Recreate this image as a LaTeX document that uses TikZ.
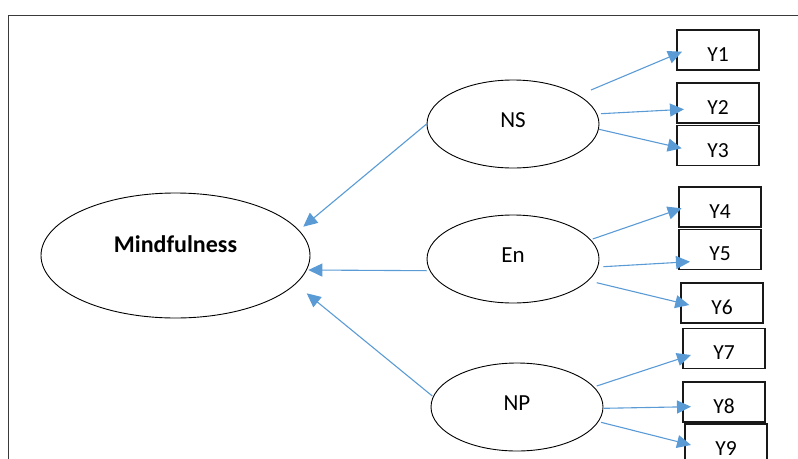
\documentclass[tikz,border=0pt]{standalone}
\usepackage{fontspec}
\setmainfont{Carlito}
\usetikzlibrary{shapes.geometric,arrows.meta}
\definecolor{arrowblue}{HTML}{5B9BD5}
\definecolor{framegray}{HTML}{3A3A3A}
\begin{document}
\begin{tikzpicture}[x=1pt,y=-1pt,
  latent/.style={ellipse,draw=black,line width=0.9pt,inner sep=0pt},
  factor/.style={latent,minimum width=172pt,minimum height=88pt,
    font=\fontsize{23}{27}\selectfont,text height=14.8pt,text depth=8pt},
  indicator/.style={rectangle,draw=black!90,line width=1.3pt,inner sep=0pt,
    minimum width=82pt,minimum height=40pt,
    font=\fontsize{21.5}{25}\selectfont,text height=22.8pt,text depth=0pt},
  arr/.style={draw=arrowblue,line width=1.1pt,
    -{Triangle[length=14pt,width=13pt]}}]
\useasboundingbox (0,0) rectangle (798,458);

% outer frame (runs on past the right and bottom edges)
\draw[framegray,line width=1.4pt] (8.3,470) -- (8.3,15.7) -- (810,15.7);

% second-order construct
\node[latent,minimum width=269pt,minimum height=125pt,
  font=\fontsize{24}{28}\selectfont\bfseries,text height=15.4pt,text depth=22pt]
  (M) at (175.5,255.5) {Mindfulness};

% first-order factors
\node[factor] (NS) at (513,124) {NS};
\node[factor] (En) at (513,259) {En};
\node[factor] (NP) at (517,407) {NP};

% indicators
\node[indicator] (Y1) at (718,50)     {Y1};
\node[indicator] (Y2) at (718,103)    {Y2};
\node[indicator] (Y3) at (718,145.75) {Y3};
\node[indicator] (Y4) at (720,207)    {Y4};
\node[indicator] (Y5) at (720,249.5)  {Y5};
\node[indicator] (Y6) at (722,303)    {Y6};
\node[indicator] (Y7) at (724,348.5)  {Y7};
\node[indicator] (Y8) at (724,402)    {Y8};
\node[indicator] (Y9) at (726,444)    {Y9};

% connector end points
\coordinate (s1) at (591,90);    \coordinate (t1) at (682,51.7);
\coordinate (s2) at (601,113.7); \coordinate (t2) at (684,109.3);
\coordinate (s3) at (599,129.3); \coordinate (t3) at (681.7,148.3);
\coordinate (s4) at (592.7,239); \coordinate (t4) at (681.7,208.3);
\coordinate (s5) at (603.3,266.7); \coordinate (t5) at (690,261.7);
\coordinate (s6) at (596.7,282.7); \coordinate (t6) at (689.3,305);
\coordinate (s7) at (596.7,386); \coordinate (t7) at (691,355);
\coordinate (s8) at (604,408.3); \coordinate (t8) at (691,406.7);
\coordinate (s9) at (601,422.3); \coordinate (t9) at (691,445);
\coordinate (mNS) at (303.3,226.7);
\coordinate (sEn) at (426.7,270.7); \coordinate (mEn) at (308.3,270);
\coordinate (sNP) at (432.3,396);   \coordinate (mNP) at (306.7,293.3);

% factor -> indicator paths
\draw[arr] (s1) -- (t1);
\draw[arr] (s2) -- (t2);
\draw[arr] (s3) -- (t3);
\draw[arr] (s4) -- (t4);
\draw[arr] (s5) -- (t5);
\draw[arr] (s6) -- (t6);
\draw[arr] (s7) -- (t7);
\draw[arr] (s8) -- (t8);
\draw[arr] (s9) -- (t9);

% factor -> construct paths
\draw[arr] (NS.west) -- (mNS);
\draw[arr] (sEn) -- (mEn);
\draw[arr] (sNP) -- (mNP);
\end{tikzpicture}
\end{document}
